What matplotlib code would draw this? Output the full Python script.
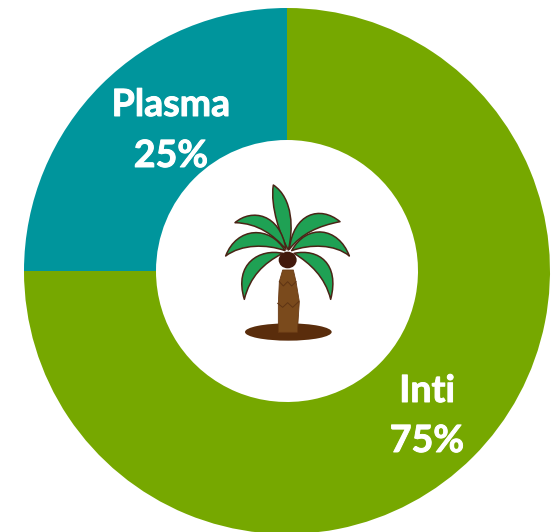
import matplotlib
matplotlib.use("Agg")
import matplotlib.pyplot as plt
import matplotlib.patheffects as pe
from matplotlib.patches import Polygon, Ellipse, PathPatch
from matplotlib.path import Path

categories = ["Inti", "Plasma"]
shares = [75, 25]
pct_labels = ["75%", "25%"]
colors = ["#76A800", "#00959C"]

W, H = 556, 532
fig = plt.figure(figsize=(W/100, H/100), dpi=100, facecolor="white")
ax = fig.add_axes([0, 0, 1, 1])

cx, cy, R, r_in = 287, 271, 263, 131
ax.pie(shares, colors=colors, center=(cx, H-cy), radius=R, startangle=90, counterclock=False,
       wedgeprops=dict(width=R-r_in, linewidth=0), frame=True)
ax.set_xlim(0, W); ax.set_ylim(0, H); ax.set_aspect("equal"); ax.axis("off")

# labels
def label(x, y1, y2, a, b):
    kw = dict(color="white", fontweight="bold", family="Lato", fontsize=27, ha="center", va="center",
              path_effects=[pe.withStroke(linewidth=0.7, foreground="white")])
    ax.text(x, H-y1, a, **kw)
    ax.text(x, H-y2, b, **kw)
label(171, 105, 156, categories[1], pct_labels[1])
label(427, 391, 441, categories[0], pct_labels[0])

# palm icon (drawn in crop coordinates of the picture)
def P(zx, zy):
    return (210 + zx/3, H - (170 + zy/3))

EDGE = "#4A2416"; LEAF = "#1FA154"
ax.add_patch(Ellipse(P(235, 486), 260/3, 52/3, fc="#5A2D0C", ec="none", zorder=3))
trunk = [(205,487),(205,400),(208,335),(218,300),(250,300),(258,335),(268,395),(262,487)]
ax.add_patch(Polygon([P(*p) for p in trunk], fc="#7A4A1C", ec="#6A3A14", lw=0.6, zorder=4))
for zig in ([(208,335),(220,348),(233,335),(245,348),(258,335)],
            [(203,400),(218,412),(233,398),(248,412),(266,395)]):
    pts = [P(*p) for p in zig]
    ax.plot(*zip(*pts), color="#5E3414", lw=0.7, zorder=5)

leaves = [
    ((190,45),(250,85),(250,180),(235,240),(212,200),(180,110)),
    ((75,158),(125,115),(210,130),(228,238),(190,195),(145,160)),
    ((390,155),(330,105),(250,130),(238,238),(275,190),(325,168)),
    ((47,258),(80,170),(180,165),(225,242),(170,222),(95,222)),
    ((418,258),(385,170),(290,160),(245,242),(300,222),(375,222)),
    ((103,388),(70,280),(150,235),(218,250),(160,280),(120,320)),
    ((362,388),(390,280),(325,235),(252,250),(300,280),(345,320)),
]
for t, c1, c2, b, c3, c4 in leaves:
    verts = [P(*q) for q in (t, c1, c2, b, c3, c4, t, t)]
    codes = [Path.MOVETO] + [Path.CURVE4]*6 + [Path.CLOSEPOLY]
    ax.add_patch(PathPatch(Path(verts, codes), fc=LEAF, ec=EDGE, lw=1.1, joinstyle="round", zorder=6))
ax.add_patch(Ellipse(P(233,270), 54/3, 50/3, fc="#42190C", ec="none", zorder=7))

fig.savefig("out.png", dpi=100)
